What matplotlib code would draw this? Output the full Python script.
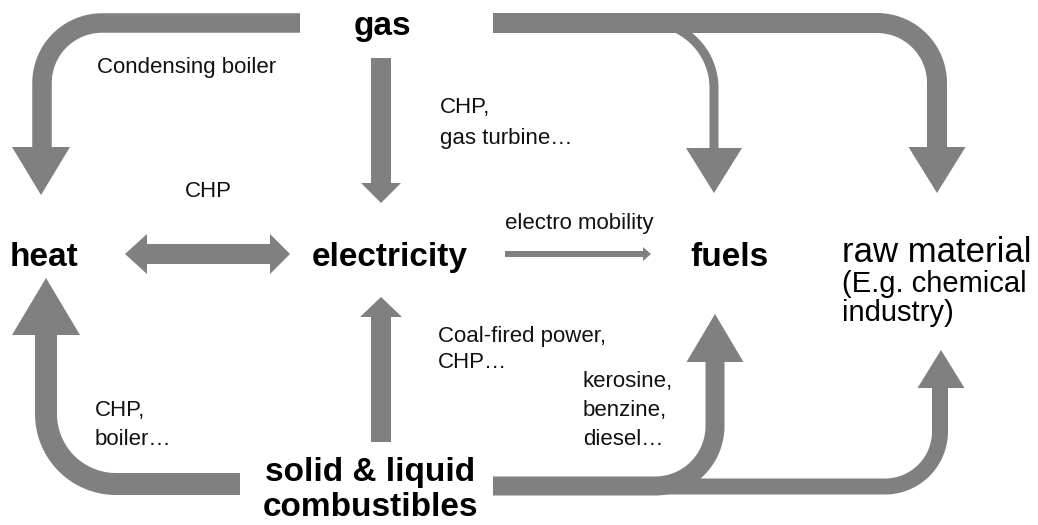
import numpy as np
import matplotlib
matplotlib.use("Agg")
import matplotlib.pyplot as plt
from matplotlib.patches import Polygon

# ---------------- content ----------------
nodes = ["gas", "heat", "electricity", "fuels", "raw material", "solid & liquid\ncombustibles"]
sub_raw = ["(E.g. chemical", "industry)"]
edge_labels = {
    "cond": "Condensing boiler",
    "gas_el": ["CHP,", "gas turbine…"],
    "chp": "CHP",
    "mob": "electro mobility",
    "coal": ["Coal-fired power,", "CHP…"],
    "fuel": ["kerosine,", "benzine,", "diesel…"],
    "boil": ["CHP,", "boiler…"],
}

GREY = "#808080"
W, H = 1038, 525
PT = 0.72  # points per pixel at dpi 100

fig = plt.figure(figsize=(W / 100, H / 100), dpi=100)
ax = fig.add_axes([0, 0, 1, 1])
ax.set_xlim(0, W)
ax.set_ylim(H, 0)
ax.axis("off")

FONT = "Liberation Sans"


def fillet(p0, c, p1, r, n=40):
    p0, c, p1 = map(np.asarray, (p0, c, p1))
    d1 = (c - p0) / np.linalg.norm(c - p0)
    d2 = (p1 - c) / np.linalg.norm(p1 - c)
    t1 = c - d1 * r
    t2 = c + d2 * r
    ctr = t1 + d2 * r
    a1 = np.arctan2(*(t1 - ctr)[::-1])
    a2 = np.arctan2(*(t2 - ctr)[::-1])
    da = (a2 - a1 + np.pi) % (2 * np.pi) - np.pi
    ang = a1 + np.linspace(0, da, n)
    arc = np.c_[ctr[0] + r * np.cos(ang), ctr[1] + r * np.sin(ang)]
    return np.vstack([p0, arc, p1])


def shaft(pts, w):
    pts = np.asarray(pts, float)
    ax.plot(pts[:, 0], pts[:, 1], color=GREY, lw=w * PT,
            solid_capstyle="butt", solid_joinstyle="round", zorder=2)


def head(base_c, tip, half, vertical=True):
    bx, by = base_c
    if vertical:
        poly = [(bx - half, by), (bx + half, by), tip]
    else:
        poly = [(bx, by - half), (bx, by + half), tip]
    ax.add_patch(Polygon(poly, closed=True, color=GREY, lw=0, zorder=3))


# gas -> heat
shaft(fillet((300, 23), (42, 23), (42, 148), 60), 19.5)
head((41, 147), (41, 195), 29)
# gas -> electricity
shaft([(381, 58), (381, 184)], 20)
head((381, 183), (381, 203), 20)
# gas -> raw material
shaft(fillet((493, 23), (937, 23), (937, 148), 60), 20)
head((937, 147), (937, 193), 28.5)
# gas -> fuels (branch)
shaft(fillet((630, 22), (714, 22), (714, 149), 66), 9)
head((714, 148), (714, 193), 28)
# heat <-> electricity
shaft([(146, 254), (271, 254)], 20)
head((147, 254), (125, 254), 20, vertical=False)
head((270, 254), (290, 254), 20, vertical=False)
# electricity -> fuels
shaft([(505, 254), (644, 254)], 6)
head((643, 254), (651, 254), 7, vertical=False)
# solid -> heat
shaft(fillet((240, 484), (46, 484), (46, 334), 70), 22)
head((46, 335), (46, 278), 34)
# solid -> electricity
shaft([(381, 442), (381, 316)], 20)
head((381, 317), (381, 297), 21)
# solid -> raw material
shaft(fillet((650, 486.5), (940, 486.5), (940, 387), 55), 16)
head((941, 388), (941, 350), 23.5)
# solid -> fuels
shaft(fillet((493, 486), (715, 486), (715, 361), 60), 19)
head((715, 362), (715, 314), 28.5)

# ---------------- texts ----------------
big = dict(fontsize=24, fontweight="bold", family=FONT, color="black", va="baseline")
small = dict(fontsize=16, family=FONT, color="#111111", va="baseline", ha="left")

ax.text(382, 35, nodes[0], ha="center", **big)
ax.text(10, 266, nodes[1], ha="left", **big)
ax.text(312, 266, nodes[2], ha="left", **big)
ax.text(690, 266, nodes[3], ha="left", **big)
sl = nodes[5].split("\n")
ax.text(370, 481, sl[0], ha="center", **big)
ax.text(370, 516, sl[1], ha="center", **big)

ax.text(842, 262, nodes[4], fontsize=25, family=FONT, va="baseline", ha="left")
ax.text(842, 292, sub_raw[0], fontsize=21, family=FONT, va="baseline", ha="left")
ax.text(842, 321, sub_raw[1], fontsize=21, family=FONT, va="baseline", ha="left")

ax.text(97, 73, edge_labels["cond"], **small)
for i, s in enumerate(edge_labels["gas_el"]):
    ax.text(440, 113 + 31 * i, s, **small)
ax.text(185, 197, edge_labels["chp"], **small)
ax.text(505, 229, edge_labels["mob"], **small)
for i, s in enumerate(edge_labels["coal"]):
    ax.text(438, 342 + 26 * i, s, **small)
for i, s in enumerate(edge_labels["fuel"]):
    ax.text(583, 387 + 29 * i, s, **small)
for i, s in enumerate(edge_labels["boil"]):
    ax.text(95, 416 + 29 * i, s, **small)

fig.savefig("out.png", dpi=100)
